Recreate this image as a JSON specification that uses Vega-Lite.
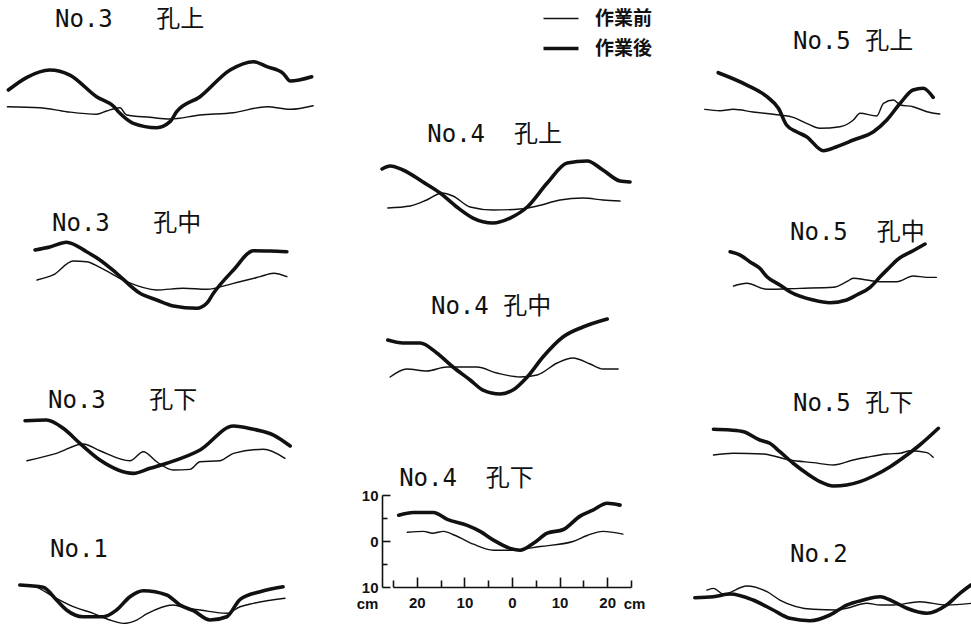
{
"$schema":"https://vega.github.io/schema/vega-lite/v6.json",
"padding":{"left":5,"top":0,"right":0,"bottom":0},
"background":"white",
"config":{
 "view":{"stroke":null},
 "title":{"font":"DejaVu Sans Mono, Noto Sans CJK JP","fontSize":24,"fontWeight":"normal","color":"#111","anchor":"start","baseline":"alphabetic"},
 "legend":{"orient":"none","legendX":536.5,"legendY":-35,"symbolType":"stroke","symbolSize":1225,"symbolStrokeColor":"#111","labelFont":"Noto Sans CJK JP","labelFontSize":19,"labelFontWeight":"bold","labelColor":"#111","labelOffset":14.5,"rowPadding":-6,"padding":0}
},
"datasets":{"p":[
{"p":"L1","s":"作業後","x":-31.8,"y":3.91},{"p":"L1","s":"作業後","x":-27.9,"y":6.67},{"p":"L1","s":"作業後","x":-23.1,"y":8.26},{"p":"L1","s":"作業後","x":-18.9,"y":7.17},{"p":"L1","s":"作業後","x":-13.3,"y":2.46},{"p":"L1","s":"作業後","x":-9.8,"y":0.43},{"p":"L1","s":"作業後","x":-8.4,"y":-1.15},{"p":"L1","s":"作業後","x":-5.6,"y":-3.33},{"p":"L1","s":"作業後","x":-0.7,"y":-4.28},{"p":"L1","s":"作業後","x":2.1,"y":-2.98},{"p":"L1","s":"作業後","x":3.5,"y":-0.8},{"p":"L1","s":"作業後","x":8.4,"y":2.46},{"p":"L1","s":"作業後","x":14.7,"y":8.26},{"p":"L1","s":"作業後","x":19.6,"y":10.07},{"p":"L1","s":"作業後","x":22.4,"y":8.98},{"p":"L1","s":"作業後","x":25.8,"y":7.54},{"p":"L1","s":"作業後","x":27.3,"y":5.87},{"p":"L1","s":"作業後","x":31.8,"y":6.8},
{"p":"L1","s":"作業前","x":-32.0,"y":0.28},{"p":"L1","s":"作業前","x":-25.2,"y":0.07},{"p":"L1","s":"作業前","x":-19.6,"y":-0.8},{"p":"L1","s":"作業前","x":-13.3,"y":-1.37},{"p":"L1","s":"作業前","x":-11.2,"y":-0.65},{"p":"L1","s":"作業前","x":-8.4,"y":0.07},{"p":"L1","s":"作業前","x":-7.0,"y":-1.52},{"p":"L1","s":"作業前","x":-2.1,"y":-2.02},{"p":"L1","s":"作業前","x":2.1,"y":-2.39},{"p":"L1","s":"作業前","x":8.4,"y":-1.52},{"p":"L1","s":"作業前","x":15.4,"y":-1.02},{"p":"L1","s":"作業前","x":22.4,"y":0.28},{"p":"L1","s":"作業前","x":27.3,"y":-0.28},{"p":"L1","s":"作業前","x":32.1,"y":0.5},
{"p":"L2","s":"作業後","x":-26.2,"y":6.52},{"p":"L2","s":"作業後","x":-23.1,"y":7.17},{"p":"L2","s":"作業後","x":-19.6,"y":8.2},{"p":"L2","s":"作業後","x":-15.4,"y":6.15},{"p":"L2","s":"作業後","x":-12.6,"y":4.35},{"p":"L2","s":"作業後","x":-9.1,"y":1.46},{"p":"L2","s":"作業後","x":-4.2,"y":-2.89},{"p":"L2","s":"作業後","x":-0.7,"y":-4.35},{"p":"L2","s":"作業後","x":2.8,"y":-5.65},{"p":"L2","s":"作業後","x":7.7,"y":-6.15},{"p":"L2","s":"作業後","x":9.8,"y":-5.07},{"p":"L2","s":"作業後","x":11.2,"y":-2.89},{"p":"L2","s":"作業後","x":15.4,"y":2.17},{"p":"L2","s":"作業後","x":19.6,"y":6.37},{"p":"L2","s":"作業後","x":23.1,"y":6.3},{"p":"L2","s":"作業後","x":26.6,"y":6.15},
{"p":"L2","s":"作業前","x":-25.8,"y":0},{"p":"L2","s":"作業前","x":-22.4,"y":1.09},{"p":"L2","s":"作業前","x":-18.2,"y":4.13},{"p":"L2","s":"作業前","x":-15.4,"y":3.98},{"p":"L2","s":"作業前","x":-12.6,"y":2.76},{"p":"L2","s":"作業前","x":-7.0,"y":-0.37},{"p":"L2","s":"作業前","x":-0.7,"y":-2.17},{"p":"L2","s":"作業前","x":4.9,"y":-1.8},{"p":"L2","s":"作業前","x":9.8,"y":-2.02},{"p":"L2","s":"作業前","x":15.4,"y":-0.72},{"p":"L2","s":"作業前","x":21.0,"y":0.72},{"p":"L2","s":"作業前","x":23.8,"y":1.46},{"p":"L2","s":"作業前","x":26.6,"y":0.72},
{"p":"L3","s":"作業後","x":-28.3,"y":7.46},{"p":"L3","s":"作業後","x":-23.8,"y":7.61},{"p":"L3","s":"作業後","x":-20.3,"y":5.8},{"p":"L3","s":"作業後","x":-16.8,"y":2.54},{"p":"L3","s":"作業後","x":-12.6,"y":-1.09},{"p":"L3","s":"作業後","x":-5.6,"y":-3.98},{"p":"L3","s":"作業後","x":-2.1,"y":-2.89},{"p":"L3","s":"作業後","x":1.4,"y":-1.8},{"p":"L3","s":"作業後","x":8.4,"y":1.09},{"p":"L3","s":"作業後","x":15.4,"y":6.3},{"p":"L3","s":"作業後","x":19.6,"y":5.59},{"p":"L3","s":"作業後","x":23.8,"y":4.35},{"p":"L3","s":"作業後","x":27.3,"y":1.96},
{"p":"L3","s":"作業前","x":-27.9,"y":-1.24},{"p":"L3","s":"作業前","x":-21.7,"y":0.37},{"p":"L3","s":"作業前","x":-16.1,"y":2.39},{"p":"L3","s":"作業前","x":-12.6,"y":0.93},{"p":"L3","s":"作業前","x":-6.3,"y":-1.24},{"p":"L3","s":"作業前","x":-3.5,"y":0.72},{"p":"L3","s":"作業前","x":-0.7,"y":-1.46},{"p":"L3","s":"作業前","x":2.8,"y":-3.26},{"p":"L3","s":"作業前","x":6.3,"y":-3.11},{"p":"L3","s":"作業前","x":8.4,"y":-1.46},{"p":"L3","s":"作業前","x":12.6,"y":-1.24},{"p":"L3","s":"作業前","x":15.4,"y":0.37},{"p":"L3","s":"作業前","x":21.7,"y":1.24},{"p":"L3","s":"作業前","x":26.2,"y":-0.72},
{"p":"L4","s":"作業後","x":-29.4,"y":3.26},{"p":"L4","s":"作業後","x":-24.5,"y":2.76},{"p":"L4","s":"作業後","x":-21.7,"y":0},{"p":"L4","s":"作業後","x":-19.6,"y":-2.17},{"p":"L4","s":"作業後","x":-16.1,"y":-3.63},{"p":"L4","s":"作業後","x":-11.9,"y":-3.63},{"p":"L4","s":"作業後","x":-9.1,"y":-2.17},{"p":"L4","s":"作業後","x":-6.3,"y":0.72},{"p":"L4","s":"作業後","x":-3.5,"y":2.02},{"p":"L4","s":"作業後","x":1.4,"y":1.09},{"p":"L4","s":"作業後","x":4.2,"y":-1.09},{"p":"L4","s":"作業後","x":7.0,"y":-2.33},{"p":"L4","s":"作業後","x":10.5,"y":-4.35},{"p":"L4","s":"作業後","x":14.0,"y":-3.63},{"p":"L4","s":"作業後","x":16.8,"y":0.15},{"p":"L4","s":"作業後","x":21.0,"y":1.8},{"p":"L4","s":"作業後","x":25.8,"y":2.89},
{"p":"L4","s":"作業前","x":-28.7,"y":3.26},{"p":"L4","s":"作業前","x":-25.8,"y":2.76},{"p":"L4","s":"作業前","x":-22.4,"y":0.72},{"p":"L4","s":"作業前","x":-18.2,"y":-1.46},{"p":"L4","s":"作業前","x":-14.0,"y":-2.89},{"p":"L4","s":"作業前","x":-10.5,"y":-4.35},{"p":"L4","s":"作業前","x":-7.7,"y":-5.07},{"p":"L4","s":"作業前","x":-4.9,"y":-4.35},{"p":"L4","s":"作業前","x":-2.8,"y":-3.04},{"p":"L4","s":"作業前","x":2.8,"y":-1.09},{"p":"L4","s":"作業前","x":5.6,"y":-1.8},{"p":"L4","s":"作業前","x":8.4,"y":-2.17},{"p":"L4","s":"作業前","x":14.0,"y":-2.89},{"p":"L4","s":"作業前","x":16.8,"y":-1.46},{"p":"L4","s":"作業前","x":19.6,"y":-0.72},{"p":"L4","s":"作業前","x":26.2,"y":0.37},
{"p":"M1","s":"作業後","x":-27.3,"y":7.83},{"p":"M1","s":"作業後","x":-25.6,"y":8.48},{"p":"M1","s":"作業後","x":-22.9,"y":7.61},{"p":"M1","s":"作業後","x":-18.7,"y":5.0},{"p":"M1","s":"作業後","x":-15.1,"y":2.61},{"p":"M1","s":"作業後","x":-11.6,"y":-0.43},{"p":"M1","s":"作業後","x":-8.2,"y":-2.83},{"p":"M1","s":"作業後","x":-4.0,"y":-3.91},{"p":"M1","s":"作業後","x":-0.4,"y":-2.83},{"p":"M1","s":"作業後","x":3.2,"y":-0.43},{"p":"M1","s":"作業後","x":7.4,"y":4.78},{"p":"M1","s":"作業後","x":11.6,"y":9.13},{"p":"M1","s":"作業後","x":15.8,"y":9.57},{"p":"M1","s":"作業後","x":19.1,"y":7.61},{"p":"M1","s":"作業後","x":22.7,"y":5.22},{"p":"M1","s":"作業後","x":24.8,"y":5.0},
{"p":"M1","s":"作業前","x":-26.1,"y":-0.65},{"p":"M1","s":"作業前","x":-21.4,"y":-0.22},{"p":"M1","s":"作業前","x":-17.9,"y":1.09},{"p":"M1","s":"作業前","x":-14.7,"y":2.61},{"p":"M1","s":"作業前","x":-12.4,"y":1.96},{"p":"M1","s":"作業前","x":-8.8,"y":-0.43},{"p":"M1","s":"作業前","x":-4.0,"y":-1.09},{"p":"M1","s":"作業前","x":1.7,"y":-0.87},{"p":"M1","s":"作業前","x":5.3,"y":-0.22},{"p":"M1","s":"作業前","x":10.1,"y":1.09},{"p":"M1","s":"作業前","x":14.9,"y":1.52},{"p":"M1","s":"作業前","x":19.1,"y":1.09},{"p":"M1","s":"作業前","x":22.7,"y":0.87},
{"p":"M2","s":"作業後","x":-26.1,"y":6.3},{"p":"M2","s":"作業後","x":-22.9,"y":5.65},{"p":"M2","s":"作業後","x":-19.3,"y":5.65},{"p":"M2","s":"作業後","x":-15.8,"y":3.48},{"p":"M2","s":"作業後","x":-12.4,"y":0.43},{"p":"M2","s":"作業後","x":-8.8,"y":-2.39},{"p":"M2","s":"作業後","x":-6.1,"y":-4.57},{"p":"M2","s":"作業後","x":-2.5,"y":-5.43},{"p":"M2","s":"作業後","x":0.2,"y":-4.57},{"p":"M2","s":"作業後","x":3.2,"y":-1.74},{"p":"M2","s":"作業後","x":6.5,"y":2.61},{"p":"M2","s":"作業後","x":10.7,"y":6.96},{"p":"M2","s":"作業後","x":14.9,"y":9.13},{"p":"M2","s":"作業後","x":20.0,"y":10.87},
{"p":"M2","s":"作業前","x":-25.6,"y":-1.74},{"p":"M2","s":"作業前","x":-22.1,"y":0},{"p":"M2","s":"作業前","x":-17.9,"y":-0.43},{"p":"M2","s":"作業前","x":-13.7,"y":0.43},{"p":"M2","s":"作業前","x":-7.4,"y":0.43},{"p":"M2","s":"作業前","x":-3.2,"y":-0.87},{"p":"M2","s":"作業前","x":1.7,"y":-1.74},{"p":"M2","s":"作業前","x":5.3,"y":-1.3},{"p":"M2","s":"作業前","x":9.5,"y":1.3},{"p":"M2","s":"作業前","x":12.8,"y":2.39},{"p":"M2","s":"作業前","x":16.4,"y":1.09},{"p":"M2","s":"作業前","x":19.1,"y":0},{"p":"M2","s":"作業前","x":22.3,"y":0},
{"p":"M3","s":"作業後","x":-23.8,"y":5.6},{"p":"M3","s":"作業後","x":-20.7,"y":6.2},{"p":"M3","s":"作業後","x":-16.5,"y":6.2},{"p":"M3","s":"作業後","x":-13.6,"y":4.7},{"p":"M3","s":"作業後","x":-9.4,"y":3.4},{"p":"M3","s":"作業後","x":-6.7,"y":2.1},{"p":"M3","s":"作業後","x":-3.9,"y":0.2},{"p":"M3","s":"作業後","x":-0.4,"y":-1.6},{"p":"M3","s":"作業後","x":1.7,"y":-2.0},{"p":"M3","s":"作業後","x":4.5,"y":-0.5},{"p":"M3","s":"作業後","x":7.4,"y":1.7},{"p":"M3","s":"作業後","x":10.8,"y":2.5},{"p":"M3","s":"作業後","x":14.3,"y":5.4},{"p":"M3","s":"作業後","x":17.0,"y":6.7},{"p":"M3","s":"作業後","x":20.0,"y":8.2},{"p":"M3","s":"作業後","x":22.7,"y":7.8},
{"p":"M3","s":"作業前","x":-22.0,"y":1.9},{"p":"M3","s":"作業前","x":-18.6,"y":2.1},{"p":"M3","s":"作業前","x":-16.7,"y":1.7},{"p":"M3","s":"作業前","x":-14.4,"y":2.1},{"p":"M3","s":"作業前","x":-11.9,"y":1.2},{"p":"M3","s":"作業前","x":-8.1,"y":-0.7},{"p":"M3","s":"作業前","x":-3.9,"y":-2.0},{"p":"M3","s":"作業前","x":0.1,"y":-2.0},{"p":"M3","s":"作業前","x":5.9,"y":-1.2},{"p":"M3","s":"作業前","x":12.8,"y":-0.1},{"p":"M3","s":"作業前","x":15.8,"y":1.2},{"p":"M3","s":"作業前","x":19.1,"y":2.1},{"p":"M3","s":"作業前","x":23.3,"y":1.5},
{"p":"R1","s":"作業後","x":-23.3,"y":8.11},{"p":"R1","s":"作業後","x":-17.3,"y":5.43},{"p":"R1","s":"作業後","x":-13.1,"y":2.89},{"p":"R1","s":"作業後","x":-10.7,"y":0.37},{"p":"R1","s":"作業後","x":-9.0,"y":-3.26},{"p":"R1","s":"作業後","x":-6.9,"y":-4.72},{"p":"R1","s":"作業後","x":-4.8,"y":-5.8},{"p":"R1","s":"作業後","x":-1.3,"y":-8.85},{"p":"R1","s":"作業後","x":1.5,"y":-7.98},{"p":"R1","s":"作業後","x":5.0,"y":-6.52},{"p":"R1","s":"作業後","x":9.2,"y":-4.72},{"p":"R1","s":"作業後","x":12.0,"y":-2.17},{"p":"R1","s":"作業後","x":14.8,"y":1.46},{"p":"R1","s":"作業後","x":17.5,"y":4.35},{"p":"R1","s":"作業後","x":19.6,"y":4.72},{"p":"R1","s":"作業後","x":21.7,"y":2.76},
{"p":"R1","s":"作業前","x":-26.1,"y":0.15},{"p":"R1","s":"作業前","x":-22.9,"y":-0.15},{"p":"R1","s":"作業前","x":-20.1,"y":0.15},{"p":"R1","s":"作業前","x":-16.0,"y":-0.43},{"p":"R1","s":"作業前","x":-10.4,"y":-1.09},{"p":"R1","s":"作業前","x":-7.6,"y":-1.59},{"p":"R1","s":"作業前","x":-4.8,"y":-2.89},{"p":"R1","s":"作業前","x":-2.0,"y":-3.98},{"p":"R1","s":"作業前","x":2.2,"y":-3.63},{"p":"R1","s":"作業前","x":5.0,"y":-2.17},{"p":"R1","s":"作業前","x":6.4,"y":-0.72},{"p":"R1","s":"作業前","x":9.9,"y":-1.3},{"p":"R1","s":"作業前","x":11.3,"y":1.46},{"p":"R1","s":"作業前","x":13.4,"y":2.17},{"p":"R1","s":"作業前","x":14.8,"y":1.09},{"p":"R1","s":"作業前","x":17.5,"y":0.72},{"p":"R1","s":"作業前","x":20.4,"y":-0.37},{"p":"R1","s":"作業前","x":23.1,"y":-0.87},
{"p":"R2","s":"作業後","x":-20.8,"y":7.24},{"p":"R2","s":"作業後","x":-18.7,"y":6.52},{"p":"R2","s":"作業後","x":-16.7,"y":5.07},{"p":"R2","s":"作業後","x":-14.6,"y":3.63},{"p":"R2","s":"作業後","x":-13.1,"y":1.8},{"p":"R2","s":"作業後","x":-10.4,"y":0},{"p":"R2","s":"作業後","x":-8.3,"y":-1.46},{"p":"R2","s":"作業後","x":-3.4,"y":-3.26},{"p":"R2","s":"作業後","x":0.1,"y":-3.85},{"p":"R2","s":"作業後","x":3.6,"y":-3.26},{"p":"R2","s":"作業後","x":5.7,"y":-2.17},{"p":"R2","s":"作業後","x":8.5,"y":-0.5},{"p":"R2","s":"作業後","x":10.6,"y":1.8},{"p":"R2","s":"作業後","x":12.7,"y":3.98},{"p":"R2","s":"作業後","x":14.1,"y":5.43},{"p":"R2","s":"作業後","x":17.5,"y":7.46},{"p":"R2","s":"作業後","x":20.0,"y":8.91},
{"p":"R2","s":"作業前","x":-20.1,"y":-0.22},{"p":"R2","s":"作業前","x":-17.3,"y":0.37},{"p":"R2","s":"作業前","x":-13.1,"y":-0.93},{"p":"R2","s":"作業前","x":-6.2,"y":-0.72},{"p":"R2","s":"作業前","x":0.8,"y":-0.5},{"p":"R2","s":"作業前","x":3.6,"y":0.72},{"p":"R2","s":"作業前","x":5.0,"y":1.46},{"p":"R2","s":"作業前","x":7.8,"y":1.09},{"p":"R2","s":"作業前","x":10.6,"y":0.72},{"p":"R2","s":"作業前","x":14.1,"y":0.72},{"p":"R2","s":"作業前","x":17.5,"y":1.96},{"p":"R2","s":"作業前","x":20.4,"y":1.67},{"p":"R2","s":"作業前","x":22.4,"y":1.67},
{"p":"R3","s":"作業後","x":-24.3,"y":5.59},{"p":"R3","s":"作業後","x":-20.8,"y":5.43},{"p":"R3","s":"作業後","x":-18.0,"y":5.07},{"p":"R3","s":"作業後","x":-14.6,"y":3.26},{"p":"R3","s":"作業後","x":-12.5,"y":2.54},{"p":"R3","s":"作業後","x":-10.4,"y":0.72},{"p":"R3","s":"作業後","x":-7.6,"y":-1.8},{"p":"R3","s":"作業後","x":-4.8,"y":-3.98},{"p":"R3","s":"作業後","x":-2.0,"y":-5.8},{"p":"R3","s":"作業後","x":0.8,"y":-6.74},{"p":"R3","s":"作業後","x":3.6,"y":-6.52},{"p":"R3","s":"作業後","x":6.4,"y":-5.8},{"p":"R3","s":"作業後","x":9.2,"y":-4.57},{"p":"R3","s":"作業後","x":12.7,"y":-2.54},{"p":"R3","s":"作業後","x":16.2,"y":0},{"p":"R3","s":"作業後","x":18.9,"y":2.17},{"p":"R3","s":"作業後","x":22.8,"y":5.8},
{"p":"R3","s":"作業前","x":-24.3,"y":0},{"p":"R3","s":"作業前","x":-20.1,"y":0.37},{"p":"R3","s":"作業前","x":-13.9,"y":0.22},{"p":"R3","s":"作業前","x":-8.3,"y":-1.09},{"p":"R3","s":"作業前","x":-3.4,"y":-1.67},{"p":"R3","s":"作業前","x":0.8,"y":-2.17},{"p":"R3","s":"作業前","x":5.0,"y":-1.09},{"p":"R3","s":"作業前","x":7.8,"y":-0.5},{"p":"R3","s":"作業前","x":12.0,"y":0.22},{"p":"R3","s":"作業前","x":14.8,"y":0.37},{"p":"R3","s":"作業前","x":16.9,"y":0.93},{"p":"R3","s":"作業前","x":20.4,"y":0.5},{"p":"R3","s":"作業前","x":21.7,"y":-0.5},
{"p":"R4","s":"作業後","x":-28.2,"y":0.5},{"p":"R4","s":"作業後","x":-24.3,"y":0.72},{"p":"R4","s":"作業後","x":-20.8,"y":1.3},{"p":"R4","s":"作業後","x":-16.0,"y":0},{"p":"R4","s":"作業後","x":-11.8,"y":-2.17},{"p":"R4","s":"作業後","x":-8.3,"y":-3.98},{"p":"R4","s":"作業後","x":-4.1,"y":-4.5},{"p":"R4","s":"作業後","x":0.1,"y":-3.26},{"p":"R4","s":"作業後","x":3.6,"y":-1.09},{"p":"R4","s":"作業後","x":7.1,"y":0},{"p":"R4","s":"作業後","x":10.6,"y":0.72},{"p":"R4","s":"作業後","x":13.4,"y":-0.37},{"p":"R4","s":"作業後","x":16.2,"y":-1.8},{"p":"R4","s":"作業後","x":20.4,"y":-2.89},{"p":"R4","s":"作業後","x":24.5,"y":-1.09},{"p":"R4","s":"作業後","x":27.3,"y":1.46},{"p":"R4","s":"作業後","x":29.6,"y":3.26},
{"p":"R4","s":"作業前","x":-25.7,"y":2.17},{"p":"R4","s":"作業前","x":-24.3,"y":2.54},{"p":"R4","s":"作業前","x":-22.2,"y":1.3},{"p":"R4","s":"作業前","x":-17.3,"y":3.04},{"p":"R4","s":"作業前","x":-13.1,"y":1.8},{"p":"R4","s":"作業前","x":-10.4,"y":0},{"p":"R4","s":"作業前","x":-3.4,"y":-2.02},{"p":"R4","s":"作業前","x":1.5,"y":-2.17},{"p":"R4","s":"作業前","x":3.6,"y":-1.8},{"p":"R4","s":"作業前","x":7.8,"y":-0.72},{"p":"R4","s":"作業前","x":10.6,"y":-1.09},{"p":"R4","s":"作業前","x":13.4,"y":-1.09},{"p":"R4","s":"作業前","x":18.9,"y":-0.37},{"p":"R4","s":"作業前","x":24.5,"y":-1.09},{"p":"R4","s":"作業前","x":29.6,"y":-0.72}
]},
"hconcat":[
 {"vconcat":[
  {"width":328,"height":203,"title":{"text":"No.3\u00a0\u00a0\u00a0孔上","dx":50,"offset":3},"data":{"name":"p"},"transform":[{"filter":"datum.p=='L1'"}],"mark":{"type":"line","interpolate":"monotone","color":"#111","strokeCap":"round","strokeJoin":"round"},"encoding":{"x":{"field":"x","type":"quantitative","scale":{"domain":[-32.5,36.27],"nice":false,"zero":false},"axis":null},"y":{"field":"y","type":"quantitative","scale":{"domain":[-28.26,15.87],"nice":false,"zero":false},"axis":null},"strokeWidth":{"field":"s","type":"ordinal","scale":{"domain":["作業前","作業後"],"range":[1.4,3.6]},"legend":{"title":null}}}},
  {"width":328,"height":177,"title":{"text":"No.3\u00a0\u00a0\u00a0孔中","dx":47,"offset":2},"data":{"name":"p"},"transform":[{"filter":"datum.p=='L2'"}],"mark":{"type":"line","interpolate":"monotone","color":"#111","strokeCap":"round","strokeJoin":"round"},"encoding":{"x":{"field":"x","type":"quantitative","scale":{"domain":[-32.5,36.27],"nice":false,"zero":false},"axis":null},"y":{"field":"y","type":"quantitative","scale":{"domain":[-29.35,9.13],"nice":false,"zero":false},"axis":null},"strokeWidth":{"field":"s","type":"ordinal","scale":{"domain":["作業前","作業後"],"range":[1.4,3.6]},"legend":{"title":null}}}},
  {"width":328,"height":150,"title":{"text":"No.3\u00a0\u00a0\u00a0孔下","dx":43,"offset":2},"data":{"name":"p"},"transform":[{"filter":"datum.p=='L3'"}],"mark":{"type":"line","interpolate":"monotone","color":"#111","strokeCap":"round","strokeJoin":"round"},"encoding":{"x":{"field":"x","type":"quantitative","scale":{"domain":[-32.5,36.27],"nice":false,"zero":false},"axis":null},"y":{"field":"y","type":"quantitative","scale":{"domain":[-23.91,8.7],"nice":false,"zero":false},"axis":null},"strokeWidth":{"field":"s","type":"ordinal","scale":{"domain":["作業前","作業後"],"range":[1.4,3.6]},"legend":{"title":null}}}},
  {"width":328,"height":65,"title":{"text":"No.1","dx":45,"offset":3},"data":{"name":"p"},"transform":[{"filter":"datum.p=='L4'"}],"mark":{"type":"line","interpolate":"monotone","color":"#111","strokeCap":"round","strokeJoin":"round"},"encoding":{"x":{"field":"x","type":"quantitative","scale":{"domain":[-32.5,36.27],"nice":false,"zero":false},"axis":null},"y":{"field":"y","type":"quantitative","scale":{"domain":[-6.52,7.61],"nice":false,"zero":false},"axis":null},"strokeWidth":{"field":"s","type":"ordinal","scale":{"domain":["作業前","作業後"],"range":[1.4,3.6]},"legend":{"title":null}}}}
 ],"spacing":0,"bounds":"flush"},
 {"hconcat":[
 {"vconcat":[
  {"width":238,"height":115,"data":{"values":[]},"mark":"point"},
  {"width":238,"height":170,"title":{"text":"No.4\u00a0\u00a0孔上","dx":47,"offset":3},"data":{"name":"p"},"transform":[{"filter":"datum.p=='M1'"}],"mark":{"type":"line","interpolate":"monotone","color":"#111","strokeCap":"round","strokeJoin":"round"},"encoding":{"x":{"field":"x","type":"quantitative","scale":{"domain":[-25,25],"nice":false,"zero":false},"axis":null},"y":{"field":"y","type":"quantitative","scale":{"domain":[-25,11.96],"nice":false,"zero":false},"axis":null},"strokeWidth":{"field":"s","type":"ordinal","scale":{"domain":["作業前","作業後"],"range":[1.4,3.6]},"legend":{"title":null}}}},
  {"width":238,"height":175,"title":{"text":"No.4\u00a0孔中","dx":45,"offset":-2},"data":{"name":"p"},"transform":[{"filter":"datum.p=='M2'"}],"mark":{"type":"line","interpolate":"monotone","color":"#111","strokeCap":"round","strokeJoin":"round"},"encoding":{"x":{"field":"x","type":"quantitative","scale":{"domain":[-25,25],"nice":false,"zero":false},"axis":null},"y":{"field":"y","type":"quantitative","scale":{"domain":[-27.39,10.65],"nice":false,"zero":false},"axis":null},"strokeWidth":{"field":"s","type":"ordinal","scale":{"domain":["作業前","作業後"],"range":[1.4,3.6]},"legend":{"title":null}}}},
  {"width":238,"height":92,"title":{"text":"No.4\u00a0\u00a0孔下","dx":43,"offset":-3},"data":{"name":"p"},"transform":[{"filter":"datum.p=='M3'"}],"mark":{"type":"line","interpolate":"monotone","color":"#111","strokeCap":"round","strokeJoin":"round"},"encoding":{
   "x":{"field":"x","type":"quantitative","scale":{"domain":[-25,25],"nice":false,"zero":false},"axis":{"values":[-25,-20,-15,-10,-5,0,5,10,15,20,25],"labelExpr":"abs(datum.value)%10==0 && abs(datum.value)<25 ? abs(datum.value) : ''","tickSize":{"condition":{"test":"abs(datum.value)%10==0 && abs(datum.value)<25","value":-10},"value":-7},"grid":false,"domainColor":"#111","tickColor":"#111","domainWidth":1.6,"tickWidth":1.6,"labelColor":"#111","labelFont":"Liberation Sans","labelFontSize":15,"labelFontWeight":"bold","labelPadding":18,"labelFlush":false,"labelOverlap":false,"title":"cm","titleX":241,"titleY":16,"titleAlign":"center","titleBaseline":"middle","titleFont":"Liberation Sans","titleFontSize":15,"titleFontWeight":"bold","titleColor":"#111"}},
   "y":{"field":"y","type":"quantitative","scale":{"domain":[-10,10],"nice":false,"zero":false},"axis":{"values":[-10,-5,0,5,10],"labelExpr":"abs(datum.value)%10==0 ? abs(datum.value) : ''","tickSize":{"condition":{"test":"abs(datum.value)%10==0","value":-8},"value":-5},"offset":11,"grid":false,"domainColor":"#111","tickColor":"#111","domainWidth":1.6,"tickWidth":1.6,"labelColor":"#111","labelFont":"Liberation Sans","labelFontSize":15,"labelFontWeight":"bold","labelPadding":12,"labelFlush":false,"labelOverlap":false,"title":"cm","titleAngle":0,"titleX":-15,"titleY":108,"titleAlign":"center","titleBaseline":"middle","titleFont":"Liberation Sans","titleFontSize":15,"titleFontWeight":"bold","titleColor":"#111"}},
   "strokeWidth":{"field":"s","type":"ordinal","scale":{"domain":["作業前","作業後"],"range":[1.4,3.6]},"legend":{"title":null}}}}
 ],"spacing":0,"bounds":"flush"},
 {"vconcat":[
  {"width":277,"height":20,"data":{"values":[]},"mark":"point"},
  {"width":277,"height":190,"title":{"text":"No.5\u00a0孔上","dx":102,"offset":1},"data":{"name":"p"},"transform":[{"filter":"datum.p=='R1'"}],"mark":{"type":"line","interpolate":"monotone","color":"#111","strokeCap":"round","strokeJoin":"round"},"encoding":{"x":{"field":"x","type":"quantitative","scale":{"domain":[-29,29],"nice":false,"zero":false},"axis":null},"y":{"field":"y","type":"quantitative","scale":{"domain":[-29.35,11.96],"nice":false,"zero":false},"axis":null},"strokeWidth":{"field":"s","type":"ordinal","scale":{"domain":["作業前","作業後"],"range":[1.4,3.6]},"legend":{"title":null}}}},
  {"width":277,"height":173,"title":{"text":"No.5\u00a0\u00a0孔中","dx":99,"offset":-3},"data":{"name":"p"},"transform":[{"filter":"datum.p=='R2'"}],"mark":{"type":"line","interpolate":"monotone","color":"#111","strokeCap":"round","strokeJoin":"round"},"encoding":{"x":{"field":"x","type":"quantitative","scale":{"domain":[-29,29],"nice":false,"zero":false},"axis":null},"y":{"field":"y","type":"quantitative","scale":{"domain":[-28.91,8.7],"nice":false,"zero":false},"axis":null},"strokeWidth":{"field":"s","type":"ordinal","scale":{"domain":["作業前","作業後"],"range":[1.4,3.6]},"legend":{"title":null}}}},
  {"width":277,"height":150,"title":{"text":"No.5\u00a0孔下","dx":102,"offset":2},"data":{"name":"p"},"transform":[{"filter":"datum.p=='R3'"}],"mark":{"type":"line","interpolate":"monotone","color":"#111","strokeCap":"round","strokeJoin":"round"},"encoding":{"x":{"field":"x","type":"quantitative","scale":{"domain":[-29,29],"nice":false,"zero":false},"axis":null},"y":{"field":"y","type":"quantitative","scale":{"domain":[-24.57,8.04],"nice":false,"zero":false},"axis":null},"strokeWidth":{"field":"s","type":"ordinal","scale":{"domain":["作業前","作業後"],"range":[1.4,3.6]},"legend":{"title":null}}}},
  {"width":277,"height":62,"title":{"text":"No.2","dx":99,"offset":1},"data":{"name":"p"},"transform":[{"filter":"datum.p=='R4'"}],"mark":{"type":"line","interpolate":"monotone","color":"#111","strokeCap":"round","strokeJoin":"round"},"encoding":{"x":{"field":"x","type":"quantitative","scale":{"domain":[-29,29],"nice":false,"zero":false},"axis":null},"y":{"field":"y","type":"quantitative","scale":{"domain":[-6.52,6.96],"nice":false,"zero":false},"axis":null},"strokeWidth":{"field":"s","type":"ordinal","scale":{"domain":["作業前","作業後"],"range":[1.4,3.6]},"legend":{"title":null}}}}
 ],"spacing":0,"bounds":"flush"}
 ],"spacing":46}
],
"spacing":23
}
